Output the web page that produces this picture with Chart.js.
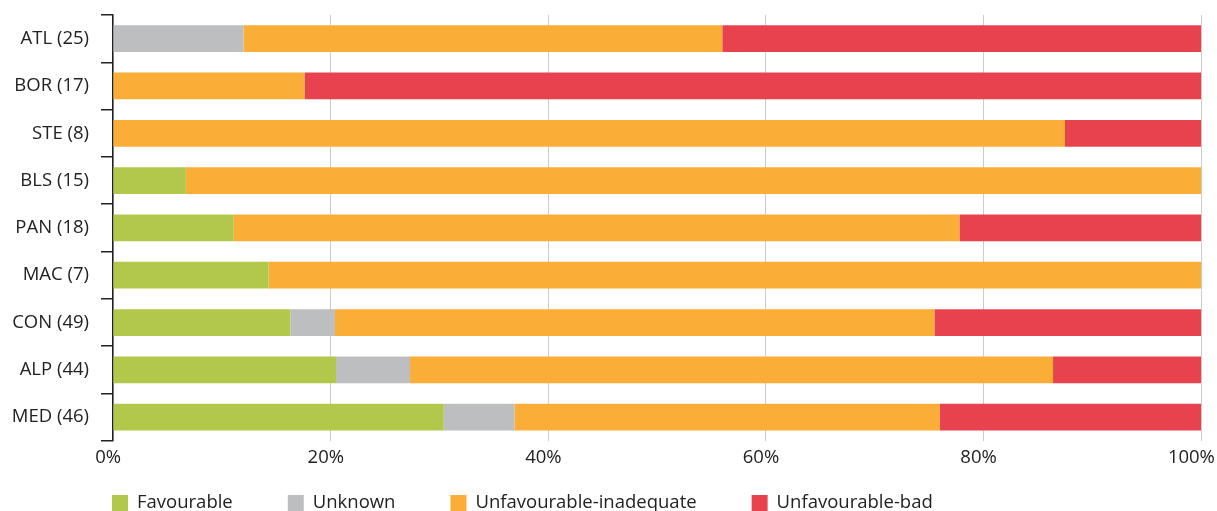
<!DOCTYPE html>
<html>
<head>
<meta charset="utf-8">
<script src="https://cdn.jsdelivr.net/npm/chart.js@4.4.1/dist/chart.umd.min.js"></script>
<style>
  html, body { margin: 0; padding: 0; background: #fff; }
  #wrap { width: 1217px; height: 511px; position: relative; }
</style>
</head>
<body>
<div id="wrap"><canvas id="statusChart"></canvas></div>
<script>
/* ---------- DATA (% of assessments per region) ---------- */
const regions      = ["ATL (25)", "BOR (17)", "STE (8)", "BLS (15)", "PAN (18)", "MAC (7)", "CON (49)", "ALP (44)", "MED (46)"];
const favourable   = [0,    0,    0,    6.7,  11.1, 14.3, 16.3, 20.5, 30.4];
const unknown      = [12.0, 0,    0,    0,    0,    0,    4.1,  6.8,  6.5];
const inadequate   = [44.0, 17.6, 87.5, 93.3, 66.7, 85.7, 55.1, 59.1, 39.1];
const bad          = [44.0, 82.4, 12.5, 0,    22.2, 0,    24.5, 13.6, 24.0];
const xTicks       = [0, 20, 40, 60, 80, 100];

const seriesNames  = ["Favourable", "Unknown", "Unfavourable-inadequate", "Unfavourable-bad"];
const COLORS       = ["#b2c84b", "#bdbec0", "#fbae37", "#e9424f"];

const FONT = "'Open Sans', sans-serif";
const FSIZE = 18.5;
const TEXT = "#222222";

/* ---------- custom bottom legend ---------- */
const bottomLegend = {
    id: "bottomLegend",
    afterDraw(chart) {
        const ctx = chart.ctx;
        ctx.save();
        ctx.font = FSIZE + "px " + FONT;
        ctx.textBaseline = "alphabetic";
        ctx.textAlign = "left";
        let x = chart.chartArea.left - 1;
        const boxTop = 495;
        chart.data.datasets.forEach(ds => {
            ctx.fillStyle = ds.backgroundColor;
            ctx.fillRect(x, boxTop, 16, 16);
            ctx.fillStyle = TEXT;
            ctx.fillText(ds.label, x + 25, boxTop + 13);
            x += 25 + ctx.measureText(ds.label).width + 55;
        });
        ctx.restore();
    }
};

const datasets = [favourable, unknown, inadequate, bad].map((vals, i) => ({
    label: seriesNames[i],
    data: vals,
    backgroundColor: COLORS[i],
    borderWidth: 0,
    barPercentage: 0.565,
    categoryPercentage: 1
}));

new Chart(document.getElementById("statusChart"), {
    type: "bar",
    data: { labels: regions, datasets },
    options: {
        indexAxis: "y",
        responsive: true,
        maintainAspectRatio: false,
        animation: false,
        layout: { padding: { top: 15, right: 16, bottom: 36, left: 0 } },
        scales: {
            x: {
                stacked: true,
                min: 0,
                max: 100,
                afterBuildTicks: scale => { scale.ticks = xTicks.map(v => ({ value: v })); },
                afterFit: scale => { scale.paddingLeft = 0; scale.paddingRight = 0; },
                ticks: {
                    color: TEXT,
                    font: { family: FONT, size: FSIZE },
                    padding: 6,
                    // trailing spaces nudge the centred labels a little to the left, as in the original
                    callback: v => v + "%" + (v === 100 ? "    " : "  ")
                },
                grid: { color: "#cccccc", drawTicks: false, lineWidth: 1 },
                border: { display: false }
            },
            y: {
                stacked: true,
                afterFit: scale => { scale.width = 113; scale.paddingTop = 0; scale.paddingBottom = 0; },
                ticks: {
                    color: TEXT,
                    font: { family: FONT, size: FSIZE },
                    padding: 12
                },
                grid: {
                    offset: true,
                    drawOnChartArea: false,
                    drawTicks: true,
                    tickLength: 12,
                    color: "#222222",
                    lineWidth: 1.5
                },
                border: { display: true, color: "#222222", width: 1.5 }
            }
        },
        plugins: {
            legend: { display: false },
            tooltip: { enabled: false }
        }
    },
    plugins: [bottomLegend]
});
</script>
</body>
</html>
